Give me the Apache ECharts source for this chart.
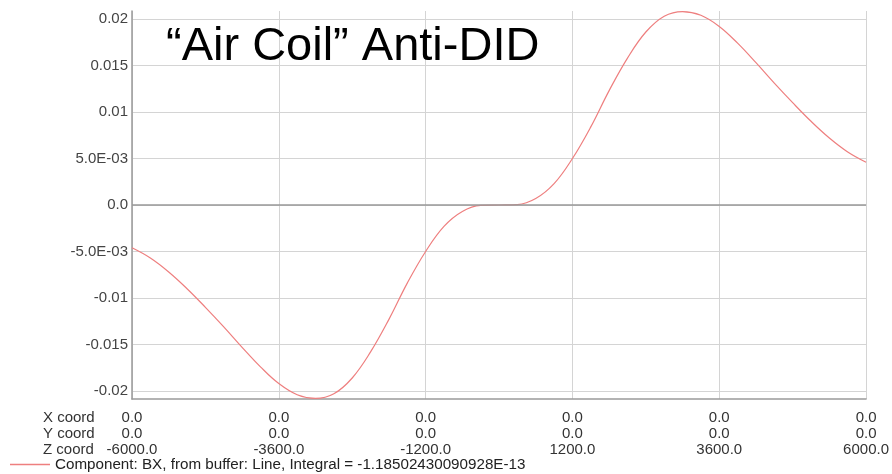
<!DOCTYPE html>
<html>
<head>
<meta charset="utf-8">
<script src="https://cdn.jsdelivr.net/npm/echarts@6/dist/echarts.min.js"></script>
<style>
  html, body { margin: 0; padding: 0; background: #fff; }
  #chart { width: 892px; height: 474px; }
</style>
</head>
<body>
<div id="chart"></div>
<script>
// Field component BX sampled along the Z axis (X = Y = 0)
const zCoords = [
  -6000, -5700, -5400, -5100, -4800, -4500, -4200, -3900, -3600, -3300, -3000,
  -2700, -2400, -2100, -1800, -1500, -1200, -900, -600, -300, 0,
  300, 600, 900, 1200, 1500, 1800, 2100, 2400, 2700, 3000,
  3300, 3600, 3900, 4200, 4500, 4800, 5100, 5400, 5700, 6000
];
const bxValues = [
  -0.0046, -0.0057, -0.0072, -0.0090, -0.0110, -0.0131, -0.0153, -0.0174, -0.0192, -0.0204, -0.0208,
  -0.0203, -0.0186, -0.0158, -0.0123, -0.0084, -0.0050, -0.0023, -0.0007, -0.00005, 0.0,
  0.00005, 0.0007, 0.0023, 0.0050, 0.0084, 0.0123, 0.0158, 0.0186, 0.0203, 0.0208,
  0.0204, 0.0192, 0.0174, 0.0153, 0.0131, 0.0110, 0.0090, 0.0072, 0.0057, 0.0046
];

// Y axis tick positions and their printed labels
const yTickValues = [-0.02, -0.015, -0.01, -0.005, 0, 0.005, 0.01, 0.015, 0.02];
const yTickLabels = ['-0.02', '-0.015', '-0.01', '-5.0E-03', '0.0', '5.0E-03', '0.01', '0.015', '0.02'];

// Coordinates printed under each X tick
const xCoordRow = 0.0;
const yCoordRow = 0.0;

const seriesName = 'Component: BX, from buffer: Line, Integral = -1.18502430090928E-13';
const titleText = '\u201CAir Coil\u201D Anti-DID';

const FONT = '"Liberation Sans", Arial, sans-serif';

const chart = echarts.init(document.getElementById('chart'), null, { renderer: 'canvas' });

chart.setOption({
  backgroundColor: '#ffffff',
  animation: false,
  grid: { left: 132, right: 24, top: 11, bottom: 75, containLabel: false },
  xAxis: {
    type: 'value',
    min: -6000,
    max: 6000,
    interval: 2400,
    axisLine: { show: true, onZero: false, lineStyle: { color: '#9a9a9a', width: 1.5 } },
    axisTick: { show: false },
    splitLine: { show: true, lineStyle: { color: '#d4d4d4', width: 1 } },
    axisLabel: {
      margin: 11,
      fontFamily: FONT,
      fontSize: 15,
      lineHeight: 16,
      color: '#333',
      align: 'center',
      formatter: v => xCoordRow.toFixed(1) + '\n' + yCoordRow.toFixed(1) + '\n' + v.toFixed(1)
    }
  },
  yAxis: {
    type: 'value',
    min: -0.02086,
    max: 0.02086,
    axisLine: { show: true, onZero: false, lineStyle: { color: '#9a9a9a', width: 1.5 } },
    axisTick: { show: false, customValues: yTickValues },
    splitLine: { show: true, lineStyle: { color: '#d4d4d4', width: 1 } },
    axisLabel: {
      customValues: yTickValues,
      margin: 4,
      fontFamily: FONT,
      fontSize: 15,
      color: '#444',
      formatter: v => {
        const i = yTickValues.findIndex(t => Math.abs(t - v) < 1e-9);
        return i >= 0 ? yTickLabels[i] : '';
      }
    }
  },
  legend: {
    left: 10,
    top: 457,
    padding: 0,
    icon: 'rect',
    itemWidth: 40,
    itemHeight: 1.5,
    itemGap: 5,
    textStyle: { fontFamily: FONT, fontSize: 15.2, color: '#222', padding: [0, 0, 10, 0] },
    data: [seriesName]
  },
  graphic: [
    {
      type: 'text',
      left: 166,
      top: 24,
      z: 10,
      style: {
        text: titleText,
        fontFamily: FONT,
        fontSize: 47,
        fill: '#000'
      }
    },
    {
      type: 'text',
      left: 43,
      top: 410,
      style: {
        text: 'X coord\nY coord\nZ coord',
        fontFamily: FONT,
        fontSize: 15,
        lineHeight: 16,
        fill: '#333'
      }
    }
  ],
  series: [
    {
      name: seriesName,
      type: 'line',
      data: zCoords.map((z, i) => [z, bxValues[i]]),
      smooth: 0.4,
      showSymbol: false,
      lineStyle: { color: '#ee7f7f', width: 1.2 },
      itemStyle: { color: '#ee7f7f' },
      markLine: {
        silent: true,
        symbol: ['none', 'none'],
        label: { show: false },
        lineStyle: { color: '#999', width: 1.5, type: 'solid' },
        data: [{ yAxis: 0 }]
      }
    }
  ]
});
</script>
</body>
</html>
